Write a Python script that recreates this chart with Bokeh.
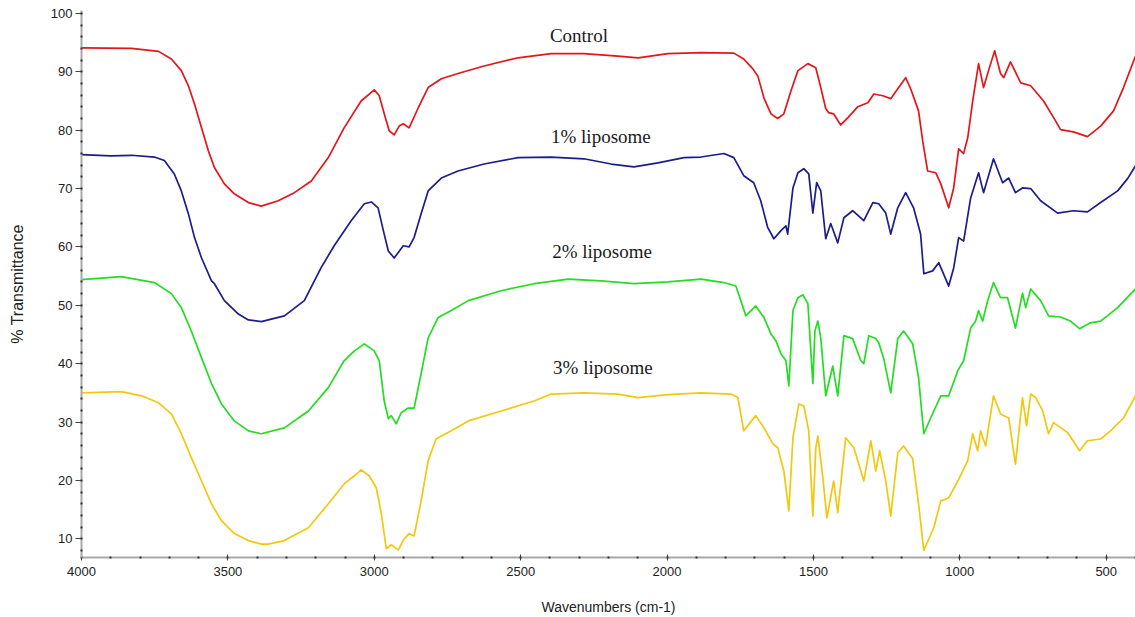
from bokeh.plotting import figure
from bokeh.models import Range1d, FixedTicker, Label
from bokeh.embed import file_html
from bokeh.resources import INLINE

# ---------------- data ----------------
control_wn = [4000, 3829, 3737, 3693, 3659, 3635, 3614, 3590, 3567, 3546, 3512, 3478, 3430, 3386,
              3328, 3273, 3215, 3157, 3103, 3045, 3000, 2983, 2966, 2949, 2932, 2915, 2901, 2881,
              2850, 2816, 2771, 2714, 2625, 2509, 2396, 2284, 2168, 2099, 1997, 1884, 1772, 1738,
              1707, 1690, 1669, 1645, 1622, 1601, 1577, 1553, 1519, 1492, 1475, 1458, 1448, 1431,
              1407, 1383, 1349, 1314, 1294, 1263, 1236, 1212, 1185, 1168, 1141, 1127, 1110, 1082,
              1065, 1038, 1021, 1004, 987, 973, 956, 936, 919, 902, 881, 861, 850, 827, 792, 758,
              714, 673, 656, 612, 564, 519, 475, 441, 400]
control_t = [94.1, 94.0, 93.5, 92.2, 90.2, 87.6, 84.5, 80.4, 76.5, 73.6, 70.8, 69.1, 67.6, 67.0,
             67.9, 69.3, 71.3, 75.3, 80.4, 85.0, 86.9, 85.9, 82.8, 79.9, 79.2, 80.7, 81.1, 80.4,
             83.8, 87.3, 88.8, 89.7, 91.0, 92.4, 93.1, 93.1, 92.7, 92.4, 93.1, 93.3, 93.2, 92.2,
             90.5, 89.3, 85.5, 82.8, 82.0, 82.8, 86.7, 90.2, 91.4, 90.7, 87.3, 83.7, 83.0, 82.8,
             80.9, 82.1, 84.0, 84.7, 86.2, 85.9, 85.4, 87.1, 89.0, 87.1, 83.3, 78.2, 73.0, 72.7,
             70.8, 66.7, 70.1, 76.8, 76.0, 78.7, 85.0, 91.4, 87.3, 90.2, 93.6, 89.7, 89.0, 91.7,
             88.1, 87.6, 85.0, 81.6, 80.1, 79.7, 78.9, 80.7, 83.3, 87.3, 92.7]

lipo1_wn = [4000, 3900, 3829, 3751, 3717, 3683, 3659, 3635, 3614, 3590, 3556, 3546, 3512, 3464,
            3430, 3386, 3307, 3239, 3181, 3137, 3079, 3034, 3010, 2987, 2969, 2952, 2932, 2901,
            2881, 2864, 2840, 2816, 2771, 2714, 2625, 2509, 2396, 2284, 2191, 2113, 2031, 1942,
            1884, 1806, 1772, 1738, 1704, 1680, 1656, 1635, 1611, 1594, 1588, 1570, 1553, 1533,
            1516, 1502, 1489, 1475, 1458, 1441, 1417, 1396, 1366, 1328, 1297, 1277, 1253, 1236,
            1212, 1185, 1158, 1134, 1123, 1093, 1072, 1038, 1021, 1004, 987, 963, 936, 919, 885,
            854, 833, 810, 786, 758, 724, 666, 612, 564, 519, 461, 427, 400]
lipo1_t = [75.8, 75.6, 75.7, 75.4, 74.8, 72.5, 69.6, 65.7, 61.6, 58.1, 54.2, 53.7, 50.8, 48.5,
           47.5, 47.2, 48.2, 50.8, 56.5, 60.2, 64.5, 67.4, 67.7, 66.7, 62.8, 59.3, 58.1, 60.2,
           60.0, 61.6, 65.7, 69.6, 71.8, 73.0, 74.2, 75.3, 75.4, 75.1, 74.2, 73.7, 74.4, 75.3,
           75.4, 76.0, 75.3, 72.2, 71.0, 67.9, 63.3, 61.4, 62.8, 63.6, 62.2, 70.1, 72.7, 73.4,
           72.5, 65.8, 71.0, 69.6, 61.4, 64.0, 60.7, 65.0, 66.2, 64.5, 67.6, 67.4, 65.8, 62.2,
           66.7, 69.3, 66.7, 62.2, 55.4, 55.9, 57.3, 53.3, 56.4, 61.6, 61.0, 68.4, 72.7, 69.3, 75.1,
           71.0, 71.8, 69.3, 70.1, 70.0, 67.9, 65.8, 66.2, 66.0, 67.6, 69.6, 71.7, 73.9]

lipo2_wn = [4000, 3864, 3751, 3693, 3659, 3625, 3590, 3556, 3522, 3478, 3430, 3386, 3307, 3225,
            3157, 3103, 3068, 3034, 3000, 2983, 2966, 2952, 2942, 2925, 2908, 2884, 2864, 2840,
            2816, 2782, 2737, 2679, 2567, 2454, 2338, 2226, 2113, 1997, 1884, 1806, 1765, 1748,
            1731, 1697, 1669, 1645, 1628, 1611, 1594, 1584, 1570, 1553, 1536, 1519, 1502, 1495,
            1485, 1475, 1458, 1434, 1417, 1396, 1366, 1338, 1328, 1311, 1287, 1277, 1260, 1236,
            1212, 1192, 1161, 1141, 1123, 1089, 1065, 1038, 1007, 987, 963, 946, 936, 922, 905,
            885, 861, 837, 810, 786, 775, 758, 724, 697, 656, 622, 591, 554, 519, 461, 400]
lipo2_t = [54.4, 54.9, 53.9, 52.0, 49.6, 45.6, 41.0, 36.6, 33.1, 30.2, 28.5, 28.0, 29.0, 31.9,
           35.9, 40.5, 42.2, 43.4, 42.2, 40.5, 33.6, 30.6, 31.1, 29.7, 31.6, 32.4, 32.4, 38.3,
           44.4, 47.9, 49.1, 50.8, 52.5, 53.7, 54.5, 54.2, 53.7, 54.0, 54.5, 53.9, 53.3, 50.8,
           48.2, 49.9, 47.9, 45.1, 43.9, 41.7, 40.5, 36.2, 49.1, 51.3, 51.8, 50.3, 36.6, 45.6,
           47.3, 44.4, 34.5, 39.6, 34.5, 44.8, 44.3, 40.5, 40.0, 44.8, 44.3, 43.6, 40.9, 35.0,
           44.3, 45.6, 43.4, 37.6, 28.0, 31.9, 34.5, 34.5, 38.8, 40.5, 46.1, 47.3, 49.1, 47.3, 50.8,
           53.9, 51.3, 51.3, 46.1, 52.1, 49.6, 52.8, 50.8, 48.2, 48.0, 47.3, 46.0, 47.0, 47.3, 49.6, 52.8]

lipo3_wn = [4000, 3864, 3795, 3737, 3693, 3659, 3625, 3590, 3556, 3522, 3478, 3430, 3386, 3362,
            3307, 3225, 3157, 3103, 3068, 3045, 3017, 2993, 2976, 2959, 2942, 2918, 2898, 2881,
            2864, 2840, 2816, 2789, 2737, 2679, 2567, 2454, 2396, 2284, 2168, 2099, 1997, 1884,
            1782, 1758, 1738, 1697, 1669, 1639, 1622, 1601, 1584, 1570, 1550, 1533, 1516, 1502,
            1492, 1485, 1468, 1454, 1431, 1417, 1390, 1362, 1328, 1304, 1287, 1274, 1253, 1236,
            1212, 1192, 1161, 1141, 1123, 1089, 1065, 1038, 1007, 973, 956, 939, 929, 912, 885,
            861, 833, 810, 786, 772, 758, 741, 717, 697, 680, 632, 591, 564, 519, 485, 441, 400]
lipo3_t = [35.0, 35.2, 34.5, 33.3, 31.4, 28.0, 23.9, 19.9, 16.0, 13.1, 10.9, 9.7, 9.1, 9.1,
           9.7, 11.9, 16.0, 19.4, 20.8, 21.8, 20.8, 18.7, 14.3, 8.3, 9.0, 8.1, 10.0, 10.9,
           10.5, 16.5, 23.4, 27.1, 28.5, 30.2, 31.9, 33.6, 34.8, 35.0, 34.8, 34.2, 34.7, 35.0,
           34.8, 34.2, 28.5, 31.1, 29.0, 26.3, 25.6, 21.6, 14.8, 27.3, 33.1, 32.8, 28.5, 13.9,
           25.6, 27.6, 20.5, 13.6, 19.9, 14.5, 27.3, 25.6, 19.9, 26.8, 21.6, 25.1, 19.9, 13.9,
           24.7, 25.9, 23.7, 16.0, 8.0, 11.9, 16.5, 17.0, 19.9, 23.4, 28.0, 25.1, 28.5, 25.9, 34.5,
           31.4, 30.7, 22.8, 34.2, 29.4, 34.8, 34.2, 31.9, 28.0, 29.9, 28.2, 25.1, 26.8, 27.1, 28.5, 30.7, 34.5]

series_names = ["Control", "1% liposome", "2% liposome", "3% liposome"]
series_colors = ["#e3161b", "#1c1c8a", "#22dd22", "#f2c80f"]
label_wn = [2301, 2226, 2222, 2219]
label_t = [96.3, 78.9, 59.2, 39.3]

x_major = [4000, 3500, 3000, 2500, 2000, 1500, 1000, 500]
x_minor = list(range(400, 4001, 100))
y_major = [10, 20, 30, 40, 50, 60, 70, 80, 90, 100]
y_minor = list(range(8, 101, 2))

# ---------------- figure ----------------
p = figure(width=1135, height=617, output_backend="svg", toolbar_location=None,
           x_range=Range1d(4000, 400), y_range=Range1d(6.8, 100.5),
           min_border_left=81, min_border_right=0, min_border_top=10, min_border_bottom=60)
p.outline_line_color = None
p.xgrid.visible = False
p.ygrid.visible = False
p.background_fill_color = "white"
p.border_fill_color = "white"

for wn, t, c in zip([control_wn, lipo1_wn, lipo2_wn, lipo3_wn],
                    [control_t, lipo1_t, lipo2_t, lipo3_t], series_colors):
    p.line(wn, t, line_color=c, line_width=1.7, line_join="round")

for name, lx, ly in zip(series_names, label_wn, label_t):
    p.add_layout(Label(x=lx, y=ly, text=name, text_align="center", text_baseline="middle",
                       text_font="Liberation Serif", text_font_size="19px", text_color="#1a1a1a"))

p.xaxis.ticker = FixedTicker(ticks=x_major, minor_ticks=x_minor)
p.yaxis.ticker = FixedTicker(ticks=y_major, minor_ticks=y_minor)

for ax in (p.xaxis[0], p.yaxis[0]):
    ax.axis_line_color = "#a8a8a8"
    ax.axis_line_width = 2
    ax.major_tick_line_color = "#444444"
    ax.minor_tick_line_color = "#333333"
    ax.minor_tick_line_width = 2
    ax.minor_tick_in = 1
    ax.minor_tick_out = 1
    ax.major_label_text_font = "Liberation Sans"
    ax.major_label_text_font_size = "13px"
    ax.major_label_text_color = "#222222"
    ax.axis_label_text_font = "Liberation Sans"
    ax.axis_label_text_font_style = "normal"
    ax.axis_label_text_color = "#222222"

p.xaxis.major_tick_in = 3
p.xaxis.major_tick_out = 3
p.xaxis.major_label_standoff = 6
p.xaxis.axis_label = "Wavenumbers (cm-1)"
p.xaxis.axis_label_text_font_size = "14px"
p.xaxis.axis_label_standoff = 20

p.yaxis.major_tick_in = 0
p.yaxis.major_tick_out = 6
p.yaxis.major_label_standoff = 3
p.yaxis.axis_label = "% Transmittance"
p.yaxis.axis_label_text_font_size = "16px"
p.yaxis.axis_label_standoff = 22

open("out.html", "w").write(file_html(p, INLINE))
